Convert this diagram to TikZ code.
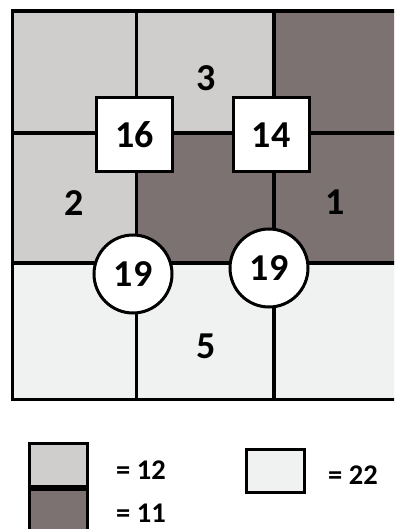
\documentclass[tikz,border=0pt]{standalone}
\usepackage{fontspec}
\setmainfont{Carlito}
\definecolor{lightg}{RGB}{208,205,205}
\definecolor{darkg}{RGB}{123,114,113}
\definecolor{paleg}{RGB}{240,242,242}
\begin{document}
\begin{tikzpicture}[x=1pt,y=-1pt,
  gridline/.style={line width=3.4pt},
  sqbox/.style={draw,fill=white,line width=3pt,minimum width=76pt,minimum height=74pt,inner sep=0pt,font=\fontsize{38}{42}\selectfont\bfseries},
  circbox/.style={draw,fill=white,circle,line width=3pt,minimum size=78pt,inner sep=0pt,font=\fontsize{38}{42}\selectfont\bfseries},
  lbl/.style={font=\fontsize{38}{42}\selectfont\bfseries},
  legbox/.style={draw,line width=3pt},
  legtext/.style={anchor=west,inner sep=0pt,font=\fontsize{28.5}{32}\selectfont\bfseries}]
\useasboundingbox (0,0) rectangle (394,529);
\clip (0,0) rectangle (394,529);
\fill[white] (0,0) rectangle (394,529);
% cells
\fill[lightg] (12.5,11) rectangle (274,133);
\fill[darkg] (274,11) rectangle (420,133);
\fill[lightg] (12.5,133) rectangle (136.5,263);
\fill[darkg] (136.5,133) rectangle (420,263);
\fill[paleg] (12.5,263) rectangle (420,399.5);
% grid lines
\draw[gridline] (136.5,11) -- (136.5,399.5);
\draw[gridline] (274,11) -- (274,399.5);
\draw[gridline] (12.5,133) -- (420,133);
\draw[gridline] (12.5,263) -- (420,263);
\draw[gridline] (420,11) -- (12.5,11) -- (12.5,399.5) -- (420,399.5);
% region labels
\node[lbl] (l3) at (206,78) {3};
\node[lbl] (l2) at (74,203) {2};
\node[lbl] (l1) at (335,202) {1};
\node[lbl] (l5) at (206,346) {5};
% boxes
\node[sqbox] (b16) at (134.5,134.5) {16};
\node[sqbox] (b14) at (271,135) {14};
\node[circbox] (c19a) at (133,274) {19};
\node[circbox] (c19b) at (269,268) {19};
% legend
\draw[legbox,fill=lightg] (29.5,443.5) rectangle (87,486);
\draw[legbox,fill=darkg] (29.5,489.5) rectangle (87,540);
\draw[legbox,fill=paleg] (246,449.5) rectangle (304,492);
\node[legtext] (t12) at (116,470) {= 12};
\node[legtext] (t11) at (116,513) {= 11};
\node[legtext] (t22) at (328,475) {= 22};
\end{tikzpicture}
\end{document}
